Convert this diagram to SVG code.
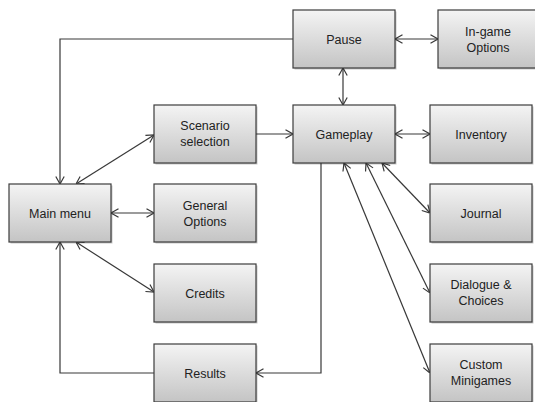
<svg xmlns="http://www.w3.org/2000/svg" width="535" height="402" viewBox="0 0 535 402">
  <style>
    .box { fill: url(#boxFill); stroke: #3c3c3c; stroke-width: 1.2; }
    .shadow { fill: #000; opacity: 0.22; }
    .label { font-family: "Liberation Sans", Arial, sans-serif; font-size: 12.5px; fill: #222; text-anchor: middle; dominant-baseline: central; }
    .link { fill: none; stroke: #383838; stroke-width: 1.2; }
    .both { marker-start: url(#arrow); marker-end: url(#arrow); }
    .end { marker-end: url(#arrow); }
  </style>
  <defs>
    <linearGradient id="boxFill" x1="0" y1="0" x2="0" y2="1">
      <stop offset="0" stop-color="#f4f4f4"/>
      <stop offset="1" stop-color="#c4c4c4"/>
    </linearGradient>
    <marker id="arrow" viewBox="0 0 8 10" refX="8" refY="5" markerWidth="8" markerHeight="10" markerUnits="userSpaceOnUse" orient="auto-start-reverse">
      <path d="M0.5,0.8 L8,5 L0.5,9.2" fill="none" stroke="#383838" stroke-width="1.2"/>
    </marker>
  </defs>

  <!-- connectors -->
  <g id="connectors">
    <polyline class="link end" points="293,39 60,39 60,184"/>
    <line class="link both" x1="154" y1="135" x2="76" y2="184"/>
    <line class="link end" x1="256" y1="134" x2="293" y2="134"/>
    <line class="link both" x1="395" y1="39" x2="438" y2="39"/>
    <line class="link both" x1="343" y1="68" x2="343" y2="105"/>
    <line class="link both" x1="395" y1="134" x2="430" y2="134"/>
    <line class="link both" x1="111" y1="213" x2="154" y2="213"/>
    <line class="link both" x1="76" y1="242" x2="154" y2="292"/>
    <polyline class="link end" points="154,373 60,373 60,242"/>
    <polyline class="link end" points="321,163 321,373 256,373"/>
    <line class="link both" x1="382" y1="163" x2="430" y2="213"/>
    <line class="link both" x1="366" y1="163" x2="430" y2="293"/>
    <line class="link both" x1="344" y1="163" x2="430" y2="373"/>
  </g>

  <g id="pause">
    <rect class="shadow" x="294.5" y="11.5" width="102" height="58"/>
    <rect class="box" x="293" y="10" width="102" height="58"/>
    <text class="label" x="344" y="40">Pause</text>
  </g>
  <g id="ingame-options">
    <rect class="shadow" x="439.5" y="11.5" width="102" height="58"/>
    <rect class="box" x="438" y="10" width="102" height="58"/>
    <text class="label" x="488" y="32">In-game</text>
    <text class="label" x="488" y="48">Options</text>
  </g>
  <g id="scenario-selection">
    <rect class="shadow" x="155.5" y="106.5" width="102" height="58"/>
    <rect class="box" x="154" y="105" width="102" height="58"/>
    <text class="label" x="205" y="126">Scenario</text>
    <text class="label" x="205" y="142">selection</text>
  </g>
  <g id="gameplay">
    <rect class="shadow" x="294.5" y="106.5" width="102" height="58"/>
    <rect class="box" x="293" y="105" width="102" height="58"/>
    <text class="label" x="344" y="135">Gameplay</text>
  </g>
  <g id="inventory">
    <rect class="shadow" x="431.5" y="106.5" width="102" height="58"/>
    <rect class="box" x="430" y="105" width="102" height="58"/>
    <text class="label" x="481" y="135">Inventory</text>
  </g>
  <g id="main-menu">
    <rect class="shadow" x="10.5" y="185.5" width="102" height="58"/>
    <rect class="box" x="9" y="184" width="102" height="58"/>
    <text class="label" x="60" y="214">Main menu</text>
  </g>
  <g id="general-options">
    <rect class="shadow" x="155.5" y="185.5" width="102" height="58"/>
    <rect class="box" x="154" y="184" width="102" height="58"/>
    <text class="label" x="205" y="206">General</text>
    <text class="label" x="205" y="222">Options</text>
  </g>
  <g id="journal">
    <rect class="shadow" x="431.5" y="185.5" width="102" height="58"/>
    <rect class="box" x="430" y="184" width="102" height="58"/>
    <text class="label" x="481" y="214">Journal</text>
  </g>
  <g id="credits">
    <rect class="shadow" x="155.5" y="265.5" width="102" height="58"/>
    <rect class="box" x="154" y="264" width="102" height="58"/>
    <text class="label" x="205" y="294">Credits</text>
  </g>
  <g id="dialogue-choices">
    <rect class="shadow" x="431.5" y="265.5" width="102" height="58"/>
    <rect class="box" x="430" y="264" width="102" height="58"/>
    <text class="label" x="481" y="285">Dialogue &amp;</text>
    <text class="label" x="481" y="301">Choices</text>
  </g>
  <g id="results">
    <rect class="shadow" x="155.5" y="345.5" width="102" height="58"/>
    <rect class="box" x="154" y="344" width="102" height="58"/>
    <text class="label" x="205" y="374">Results</text>
  </g>
  <g id="custom-minigames">
    <rect class="shadow" x="431.5" y="345.5" width="102" height="58"/>
    <rect class="box" x="430" y="344" width="102" height="58"/>
    <text class="label" x="481" y="365">Custom</text>
    <text class="label" x="481" y="381">Minigames</text>
  </g>
</svg>
